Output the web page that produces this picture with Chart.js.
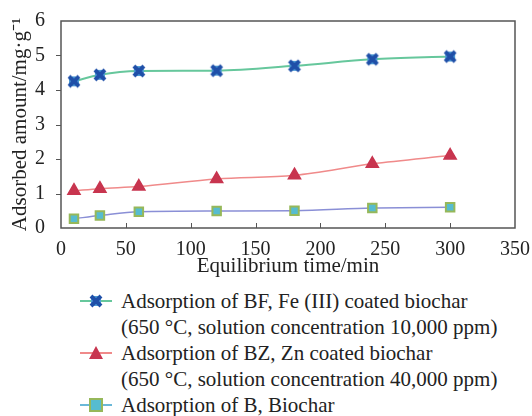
<!DOCTYPE html>
<html>
<head>
<meta charset="utf-8">
<script src="https://cdn.jsdelivr.net/npm/chart.js@4/dist/chart.umd.min.js"></script>
<style>
  body { margin: 0; background: #fff; width: 532px; height: 416px; overflow: hidden; position: relative; }
  #wrap { position: absolute; left: 0; top: 0; width: 532px; height: 285px; }
  #legend { position: absolute; left: 80px; top: 288px; font-family: "Liberation Serif", "Times New Roman", serif; font-size: 21px; line-height: 26px; color: #222; white-space: nowrap; }
  .item { position: relative; padding-left: 41px; }
  .item canvas { position: absolute; left: 0; top: 5px; }
</style>
</head>
<body>
<div id="wrap"><canvas id="chart"></canvas></div>
<div id="legend"></div>
<script>
// equilibrium time (min)
const times = [10, 30, 60, 120, 180, 240, 300];
const bfValues = [4.25, 4.44, 4.55, 4.56, 4.70, 4.89, 4.97];
const bzValues = [1.08, 1.14, 1.20, 1.42, 1.53, 1.86, 2.10];
const bValues = [0.27, 0.36, 0.47, 0.49, 0.50, 0.58, 0.60];
const xTicks = [0, 50, 100, 150, 200, 250, 300, 350];
const yTicks = [0, 1, 2, 3, 4, 5, 6];

const seriesLabels = [
    ['Adsorption of BF, Fe (III) coated biochar', '(650 °C, solution concentration 10,000 ppm)'],
    ['Adsorption of BZ, Zn coated biochar', '(650 °C, solution concentration 40,000 ppm)'],
    ['Adsorption of B, Biochar']
];

function xMarker() {
    const c = document.createElement('canvas');
    c.width = 16; c.height = 16;
    const g = c.getContext('2d');
    g.fillStyle = '#4f9fd8';
    g.fillRect(3, 3, 10, 10);
    g.strokeStyle = '#1f4fa8';
    g.lineWidth = 4;
    g.beginPath();
    g.moveTo(3, 3); g.lineTo(13, 13);
    g.moveTo(13, 3); g.lineTo(3, 13);
    g.stroke();
    return c;
}

const bfMarker = xMarker();

function pts(vals) {
    return times.map((t, i) => ({x: t, y: vals[i]}));
}

const serif = '"Liberation Serif", "Times New Roman", serif';

const boxPlugin = {
    id: 'box',
    afterDraw(chart) {
        const {ctx, chartArea: a, scales} = chart;
        ctx.save();
        ctx.strokeStyle = '#555';
        ctx.lineWidth = 1.5;
        ctx.strokeRect(a.left, a.top, a.right - a.left, a.bottom - a.top);
        ctx.lineWidth = 1;
        ctx.beginPath();
        xTicks.slice(1, -1).forEach(v => {
            const px = Math.round(scales.x.getPixelForValue(v)) + 0.5;
            ctx.moveTo(px, a.bottom);
            ctx.lineTo(px, a.bottom - 5);
        });
        yTicks.slice(1, -1).forEach(v => {
            const py = Math.round(scales.y.getPixelForValue(v)) + 0.5;
            ctx.moveTo(a.left, py);
            ctx.lineTo(a.left - 5, py);
        });
        ctx.stroke();
        ctx.restore();
    }
};

new Chart(document.getElementById('chart'), {
    type: 'line',
    data: {
        datasets: [
            {
                label: 'BF',
                data: pts(bfValues),
                borderColor: '#66c79c',
                borderWidth: 2,
                pointStyle: bfMarker,
                cubicInterpolationMode: 'monotone'
            },
            {
                label: 'BZ',
                data: pts(bzValues),
                borderColor: '#f08a8a',
                borderWidth: 1.5,
                pointStyle: 'triangle',
                pointRadius: 7,
                pointBackgroundColor: '#c8354f',
                pointBorderColor: '#c8354f',
                cubicInterpolationMode: 'monotone'
            },
            {
                label: 'B',
                data: pts(bValues),
                borderColor: '#8a8fd6',
                borderWidth: 1.5,
                pointStyle: 'rect',
                pointRadius: 6,
                pointBorderWidth: 2,
                pointBackgroundColor: '#56bcd0',
                pointBorderColor: '#96b85a',
                cubicInterpolationMode: 'monotone'
            }
        ]
    },
    options: {
        responsive: true,
        maintainAspectRatio: false,
        animation: false,
        layout: { padding: { top: 21, right: 17, left: 4, bottom: 2 } },
        plugins: { legend: { display: false }, tooltip: { enabled: false } },
        scales: {
            x: {
                type: 'linear',
                min: 0, max: 350,
                afterBuildTicks: s => { s.ticks = xTicks.map(v => ({value: v})); },
                afterFit: s => { s.height = 55; },
                grid: { display: false },
                border: { display: false },
                ticks: { color: '#222', font: { family: serif, size: 20 }, padding: 2, maxRotation: 0 },
                title: { display: true, text: 'Equilibrium time/min', color: '#222', font: { family: serif, size: 21 }, padding: { top: 0 } }
            },
            y: {
                min: 0, max: 6,
                afterBuildTicks: s => { s.ticks = yTicks.map(v => ({value: v})); },
                afterFit: s => { s.width = 57; },
                grid: { display: false },
                border: { display: false },
                ticks: { color: '#222', font: { family: serif, size: 20 }, padding: 8 },
                title: { display: true, text: 'Adsorbed amount/mg·g⁻¹', color: '#222', font: { family: serif, size: 21 }, padding: { bottom: 0 } }
            }
        }
    },
    plugins: [boxPlugin]
});

// legend below the chart
const lineColors = ['#66c79c', '#f08a8a', '#6ab8d8'];
const legend = document.getElementById('legend');
seriesLabels.forEach((lines, i) => {
    const item = document.createElement('div');
    item.className = 'item';
    const c = document.createElement('canvas');
    c.width = 32; c.height = 16;
    const g = c.getContext('2d');
    g.strokeStyle = lineColors[i];
    g.lineWidth = 2;
    g.beginPath(); g.moveTo(0, 8); g.lineTo(32, 8); g.stroke();
    if (i === 0) {
        g.drawImage(bfMarker, 8, 0);
    } else if (i === 1) {
        g.fillStyle = '#c8354f';
        g.beginPath(); g.moveTo(16, 1); g.lineTo(23, 14); g.lineTo(9, 14); g.closePath(); g.fill();
    } else {
        g.fillStyle = '#56bcd0'; g.fillRect(10, 2, 12, 12);
        g.strokeStyle = '#96b85a'; g.lineWidth = 2; g.strokeRect(10, 2, 12, 12);
    }
    item.appendChild(c);
    lines.forEach(t => {
        const d = document.createElement('div');
        d.textContent = t;
        item.appendChild(d);
    });
    legend.appendChild(item);
});
</script>
</body>
</html>
